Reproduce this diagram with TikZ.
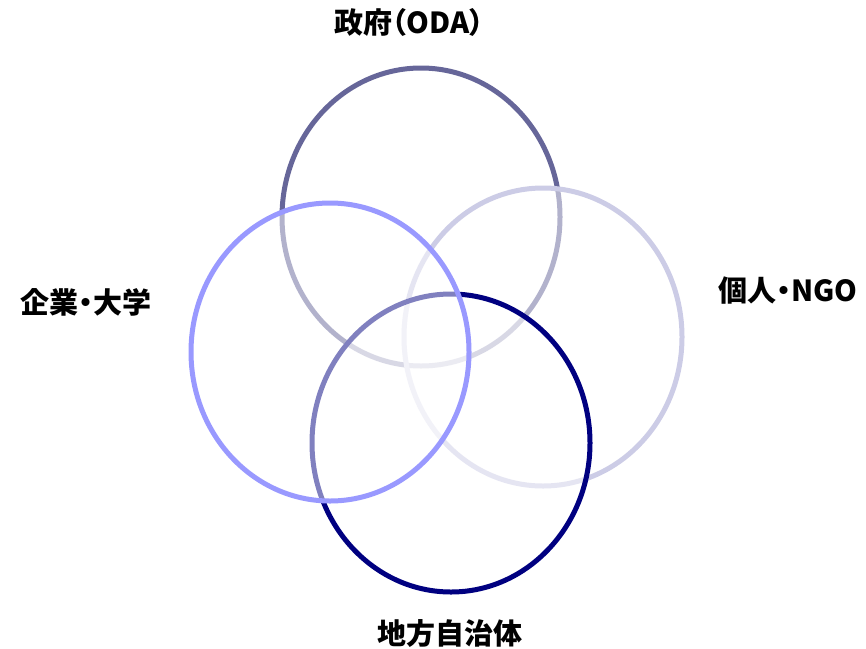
\documentclass[tikz,border=0pt]{standalone}
\usepackage{fontspec}
\newfontfamily\jpfont{Noto Sans CJK JP}[RawFeature=+palt]
\usetikzlibrary{shapes.geometric}

\definecolor{GovColor}{HTML}{666699}
\definecolor{FirmColor}{HTML}{9999FF}
\definecolor{NgoColor}{HTML}{CCCCE6}
\definecolor{LocalColor}{HTML}{000080}

\begin{document}
\begin{tikzpicture}
	[
	x=1pt, y=-1pt,
	Kreis/.style={ellipse, line width=5pt, fill=white, fill opacity=0.5, inner sep=0pt,
		minimum width=278pt, minimum height=298pt},	%Ellipse der Akteure
	Beschriftung/.style={font=\jpfont\bfseries\fontsize{29}{32}\selectfont, inner sep=0pt}	%Beschriftung
	]
	
	\useasboundingbox (0,0) rectangle (866,648);
	
	% Ellipsen, Reihenfolge bestimmt die Überdeckung
	\node[Kreis, draw=GovColor]   (gov)   at (421,217) {};	%Regierung
	\node[Kreis, draw=NgoColor]   (ngo)   at (543,337) {};	%Individuen
	\node[Kreis, draw=LocalColor] (local) at (451,443) {};	%Kommunen
	\node[Kreis, draw=FirmColor]  (firm)  at (330,352) {};	%Firmen
	
	% Beschriftungen
	\node[Beschriftung] (govLabel)   at (409,22)  {政府（ODA）};
	\node[Beschriftung] (firmLabel)  at (86,302)  {企業・大学};
	\node[Beschriftung] (ngoLabel)   at (788,291) {個人・NGO};
	\node[Beschriftung] (localLabel) at (450,634) {地方自治体};
\end{tikzpicture}
\end{document}
